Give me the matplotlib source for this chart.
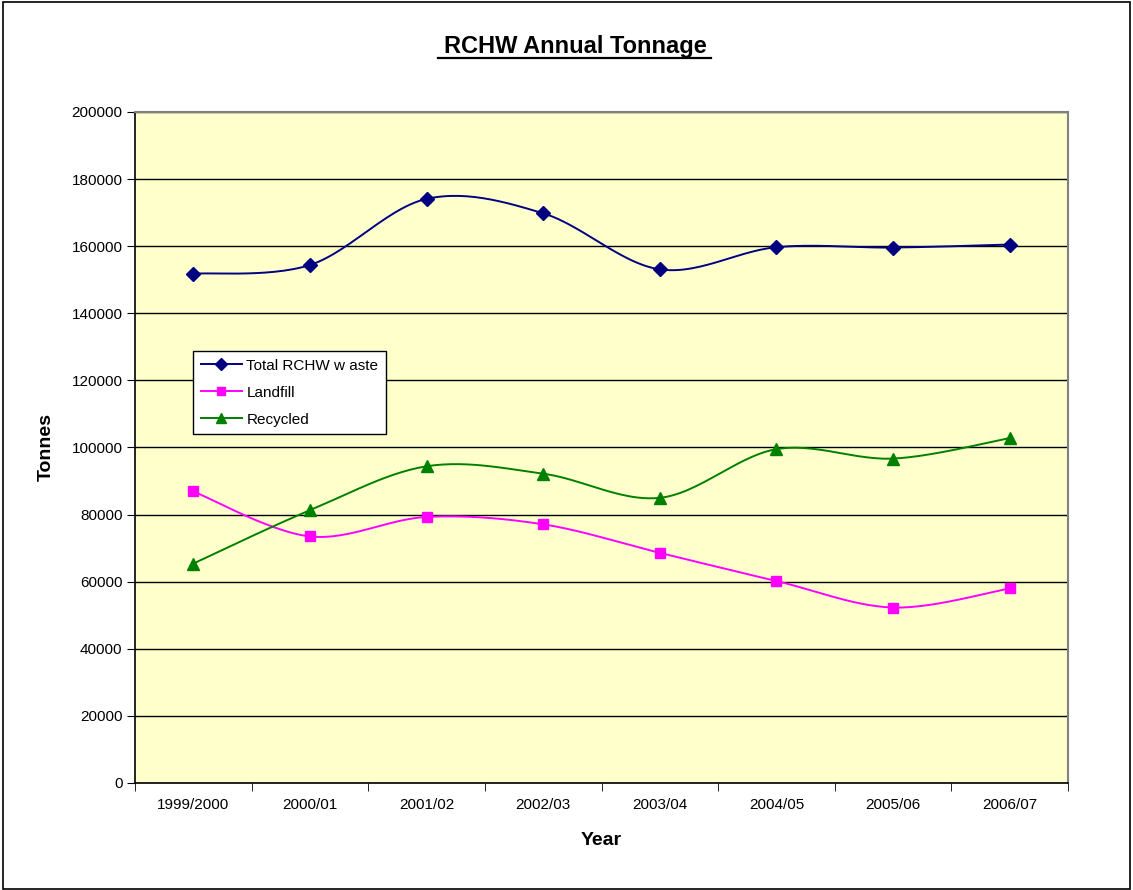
import numpy as np
import matplotlib
matplotlib.use("Agg")
import matplotlib.pyplot as plt
from matplotlib.patches import Rectangle

plt.rcParams['font.family'] = ['Liberation Sans', 'DejaVu Sans']

years = ["1999/2000", "2000/01", "2001/02", "2002/03", "2003/04", "2004/05", "2005/06", "2006/07"]
total = [151800, 154400, 174100, 169800, 153100, 159700, 159600, 160500]
landfill = [86900, 73500, 79300, 77100, 68600, 60200, 52300, 58000]
recycled = [65400, 81300, 94400, 92200, 85000, 99500, 96700, 102800]
labels = ["Total RCHW w aste", "Landfill", "Recycled"]
yticks = list(range(0, 200001, 20000))


def smooth(xs, ys, n=30):
    # Excel-style smoothed line: cubic Bezier with Catmull-Rom control points
    xs = np.asarray(xs, float)
    ys = np.asarray(ys, float)
    px, py = [], []
    m = len(xs)
    for i in range(m - 1):
        x0, y0 = (xs[i - 1], ys[i - 1]) if i > 0 else (xs[i], ys[i])
        x1, y1 = xs[i], ys[i]
        x2, y2 = xs[i + 1], ys[i + 1]
        x3, y3 = (xs[i + 2], ys[i + 2]) if i + 2 < m else (x2, y2)
        c1x, c1y = x1 + (x2 - x0) / 6, y1 + (y2 - y0) / 6
        c2x, c2y = x2 - (x3 - x1) / 6, y2 - (y3 - y1) / 6
        t = np.linspace(0, 1, n)
        bx = (1 - t) ** 3 * x1 + 3 * (1 - t) ** 2 * t * c1x + 3 * (1 - t) * t ** 2 * c2x + t ** 3 * x2
        by = (1 - t) ** 3 * y1 + 3 * (1 - t) ** 2 * t * c1y + 3 * (1 - t) * t ** 2 * c2y + t ** 3 * y2
        px.extend(bx)
        py.extend(by)
    return np.array(px), np.array(py)


W, H = 1133, 890
fig = plt.figure(figsize=(W / 100, H / 100), dpi=100)
fig.patch.set_facecolor("white")
fig.add_artist(Rectangle((3 / W, 1 / H), (W - 6) / W, (H - 3) / H, transform=fig.transFigure,
                         fill=False, edgecolor="black", linewidth=1.2))

L, R, T, B = 135, 1068, 112, 783
ax = fig.add_axes([L / W, 1 - B / H, (R - L) / W, (B - T) / H])
ax.set_facecolor("#FFFFCC")

x = np.arange(len(years))
series = [
    (total, "#000080", "D", 7),
    (landfill, "#FF00FF", "s", 7),
    (recycled, "#008000", "^", 8),
]
handles = []
for (vals, col, mk, ms), lab in zip(series, labels):
    sx, sy = smooth(x, vals)
    ax.plot(sx, sy, color=col, linewidth=1.4, zorder=3)
    ax.plot(x, vals, linestyle="none", marker=mk, markersize=ms, color=col, zorder=4)
    h, = ax.plot([], [], color=col, linewidth=1.4, marker=mk, markersize=ms - 1, label=lab)
    handles.append(h)

ax.set_xlim(-0.5, len(years) - 0.5)
ax.set_ylim(0, 200000)
ax.set_yticks(yticks)
ax.set_yticklabels([str(v) for v in yticks], fontsize=11)
ax.yaxis.grid(True, color="black", linewidth=1)
ax.set_axisbelow(True)

ax.set_xticks(x)
ax.set_xticklabels(years, fontsize=11)
ax.set_xticks(np.arange(-0.5, len(years), 1), minor=True)
ax.tick_params(axis="x", which="major", length=0, pad=11)
ax.tick_params(axis="x", which="minor", length=6, direction="out", color="black")
ax.tick_params(axis="y", length=6, direction="out", pad=3)

for s in ["top", "right"]:
    ax.spines[s].set_color("#808080")
    ax.spines[s].set_linewidth(1.5)
ax.spines["left"].set_color("black")
ax.spines["bottom"].set_color("black")
ax.spines["left"].set_linewidth(1.2)
ax.spines["bottom"].set_linewidth(1.2)

ax.set_xlabel("Year", fontsize=14, fontweight="bold", labelpad=14)
ax.set_ylabel("Tonnes", fontsize=14, fontweight="bold", labelpad=12)
fig.text(575 / W, 1 - 46 / H, "RCHW Annual Tonnage", ha="center", va="center",
         fontsize=17, fontweight="bold")
# underline for title
fig.add_artist(plt.Line2D([438 / W, 711 / W], [1 - 58 / H, 1 - 58 / H], color="black",
                          linewidth=1.6, transform=fig.transFigure))

leg = ax.legend(handles=handles, loc="upper left", bbox_to_anchor=((193 - L) / (R - L), 1 - (351 - T) / (B - T)),
                fontsize=11, frameon=True, fancybox=False, edgecolor="black", framealpha=1,
                borderpad=0.5, labelspacing=0.85, handlelength=2.7, handletextpad=0.3, borderaxespad=0)
leg.get_frame().set_linewidth(1)

fig.savefig("out.png", dpi=100)
